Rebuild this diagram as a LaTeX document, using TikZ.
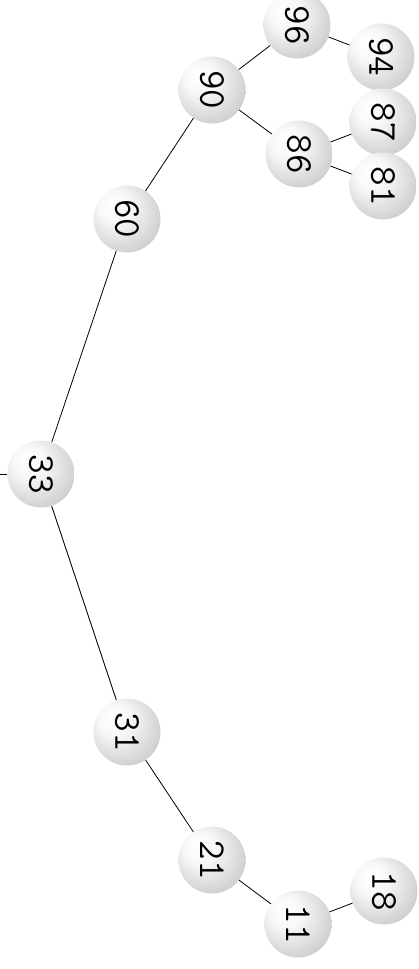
\documentclass[tikz,border=0pt]{standalone}
\usepackage{fontspec}
\pgfdeclareradialshading{softball}{\pgfpoint{-12bp}{12bp}}{color(0bp)=(white); color(12bp)=(white!97!black); color(30bp)=(black!18); color(42bp)=(black!38); color(50bp)=(black!50)}
\tikzset{
  ballnode/.style={circle, minimum size=67pt, inner sep=0pt, shading=softball, rotate=-90, font=\ttfamily\fontsize{38}{38}\selectfont},
  edge/.style={draw=black, line width=0.8pt}
}
\begin{document}
\begin{tikzpicture}[x=1pt,y=-1pt]
\useasboundingbox (0,0) rectangle (419,969);
\node[ballnode] (n33) at (41,474) {33};
\node[ballnode] (n60) at (127,219) {60};
\node[ballnode] (n31) at (127,732) {31};
\node[ballnode] (n90) at (212,90) {90};
\node[ballnode] (n21) at (212,860) {21};
\node[ballnode] (n96) at (297,25) {96};
\node[ballnode] (n86) at (299,154) {86};
\node[ballnode] (n11) at (298,924) {11};
\node[ballnode] (n94) at (381,57) {94};
\node[ballnode] (n87) at (383,122) {87};
\node[ballnode] (n81) at (383,186) {81};
\node[ballnode] (n18) at (384,891) {18};
\coordinate (p) at (0,474);
\draw[edge] (p) -- (n33);
\draw[edge] (n33) -- (n60);
\draw[edge] (n33) -- (n31);
\draw[edge] (n60) -- (n90);
\draw[edge] (n90) -- (n96);
\draw[edge] (n90) -- (n86);
\draw[edge] (n96) -- (n94);
\draw[edge] (n86) -- (n87);
\draw[edge] (n86) -- (n81);
\draw[edge] (n31) -- (n21);
\draw[edge] (n21) -- (n11);
\draw[edge] (n11) -- (n18);
\end{tikzpicture}
\end{document}
